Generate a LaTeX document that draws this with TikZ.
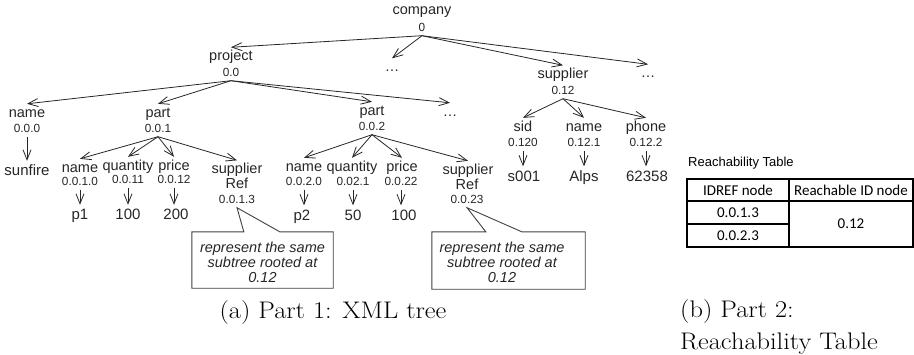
\documentclass[tikz,border=0pt]{standalone}
\usepackage{fontspec}
\usepackage{graphicx}
\newfontfamily\arialf{Liberation Sans}
\newfontfamily\calib{Carlito}
\usetikzlibrary{arrows.meta,calc}
\begin{document}
\begin{tikzpicture}[x=1pt,y=-1pt,
  lbl/.style={anchor=base,inner xsep=1pt,inner ysep=2.5pt,text height=10.5pt,font=\arialf\fontsize{14.5}{16}\selectfont,text=black!85},
  idn/.style={anchor=base,inner xsep=1pt,inner ysep=4.5pt,text height=8pt,text depth=0pt,font=\arialf\fontsize{11.8}{13}\selectfont,text=black!85},
  val/.style={anchor=base,inner xsep=1pt,inner ysep=4pt,text height=10.5pt,text depth=0pt,font=\arialf\fontsize{15}{17}\selectfont,text=black!85},
  conn/.style={draw=black!85,line width=0.8pt,-{Straight Barb[length=10pt,width=8pt]}},
  calltext/.style={align=center,inner sep=0pt,font=\arialf\itshape\fontsize{14.5}{15}\selectfont,text=black!85},
  callbox/.style={draw=black!75,line width=0.9pt},
  emptybox/.style={inner sep=0pt,minimum width=#1},
  tabline/.style={draw=black,line width=1.1pt},
  cell/.style={inner sep=0pt,font=\calib\fontsize{15}{17}\selectfont},
  captext/.style={inner sep=0pt,font=\fontsize{24}{29}\selectfont},
]
\useasboundingbox (0,0) rectangle (914,354);

% level 0
\node[lbl] (company) at (422,14.5) {company};
\node[idn] (company-id) at (422,31) {0};

% level 1
\node[lbl] (project) at (231,60.5) {project};
\node[idn] (project-id) at (231,76) {0.0};
\node[lbl] (dots1) at (392,71.5) {…};
\node[lbl] (supplier) at (563,78.5) {supplier};
\node[idn] (supplier-id) at (563,94) {0.12};
\node[lbl] (dots2) at (648,77.5) {…};

% level 2
\node[lbl] (name1) at (27,117) {name};
\node[idn] (name1-id) at (27,132) {0.0.0};
\node[val] (sunfire) at (27,175.5) {sunfire};
\node[lbl] (part1) at (158,117) {part};
\node[idn] (part1-id) at (158,132) {0.0.1};
\node[lbl] (part2) at (372,115) {part};
\node[idn] (part2-id) at (372,130) {0.0.2};
\node[lbl] (dots3) at (450,116) {…};

% level 3 under part 0.0.1
\node[lbl] (name2) at (80,172) {name};
\node[idn] (name2-id) at (80,185) {0.0.1.0};
\node[val] (p1) at (80,219.5) {p1};
\node[lbl] (qty1) at (128,170) {quantity};
\node[idn] (qty1-id) at (128,183) {0.0.11};
\node[val] (v100a) at (128,219.5) {100};
\node[lbl] (price1) at (174,170) {price};
\node[idn] (price1-id) at (174,183) {0.0.12};
\node[val] (v200) at (176,219.5) {200};
\node[lbl] (sr1) at (237,173.5) {supplier};
\node[lbl] (sr1-ref) at (237,188.5) {Ref};
\node[idn] (sr1-id) at (237,203) {0.0.1.3};

% level 3 under part 0.0.2
\node[lbl] (name3) at (304,171) {name};
\node[idn] (name3-id) at (304,185) {0.0.2.0};
\node[val] (p2) at (302,220) {p2};
\node[lbl] (qty2) at (352,171) {quantity};
\node[idn] (qty2-id) at (353,185) {0.02.1};
\node[val] (v50) at (353,220) {50};
\node[lbl] (price2) at (402,171) {price};
\node[idn] (price2-id) at (401,185) {0.0.22};
\node[val] (v100b) at (404,220) {100};
\node[lbl] (sr2) at (468,174) {supplier};
\node[lbl] (sr2-ref) at (467,189) {Ref};
\node[idn] (sr2-id) at (467,203) {0.0.23};

% children of supplier 0.12
\node[lbl] (sid) at (523,131) {sid};
\node[idn] (sid-id) at (523,146) {0.120};
\node[val] (s001) at (524,181) {s001};
\node[lbl] (name4) at (584,131) {name};
\node[idn] (name4-id) at (584,146) {0.12.1};
\node[val] (alps) at (584,181) {Alps};
\node[lbl] (phone) at (646,131) {phone};
\node[idn] (phone-id) at (646,146) {0.12.2};
\node[val] (tel) at (647,181) {62358};

% connectors
\draw[conn] (company-id.south) -- (project.north);
\draw[conn] (company-id.south) -- (dots1.north);
\draw[conn] (company-id.south) -- (supplier.north);
\draw[conn] (company-id.south) -- (dots2.north);
\draw[conn] (project-id.south) -- (name1.north);
\draw[conn] (project-id.south) -- (part1.north);
\draw[conn] (project-id.south) -- (part2.north);
\draw[conn] (project-id.south) -- (dots3.north);
\draw[conn] (name1-id.south) -- (name1-id.south |- sunfire.north);
\draw[conn] (part1-id.south) -- (name2.north);
\draw[conn] (part1-id.south) -- (qty1.north);
\draw[conn] (part1-id.south) -- (price1.north);
\draw[conn] (part1-id.south) -- (sr1.north);
\draw[conn] (name2-id.south) -- (name2-id.south |- p1.north);
\draw[conn] (qty1-id.south) -- (qty1-id.south |- v100a.north);
\draw[conn] (price1-id.south) -- (price1-id.south |- v200.north);
\draw[conn] (part2-id.south) -- (name3.north);
\draw[conn] (part2-id.south) -- (qty2.north);
\draw[conn] (part2-id.south) -- (price2.north);
\draw[conn] (part2-id.south) -- (sr2.north);
\draw[conn] (name3-id.south) -- (name3-id.south |- p2.north);
\draw[conn] (qty2-id.south) -- (qty2-id.south |- v50.north);
\draw[conn] (price2-id.south) -- (price2-id.south |- v100b.north);
\draw[conn] (supplier-id.south) -- (sid.north);
\draw[conn] (supplier-id.south) -- (name4.north);
\draw[conn] (supplier-id.south) -- (phone.north);
\draw[conn] (sid-id.south) -- (sid-id.south |- s001.north);
\draw[conn] (name4-id.south) -- (name4-id.south |- alps.north);
\draw[conn] (phone-id.south) -- (phone-id.south |- tel.north);

% callouts
\node[emptybox=141pt,minimum height=56pt] (c1box) at (262.5,260) {};
\node[calltext] (c1text) at (262.5,262) {represent the same\\subtree rooted at\\0.12};
\draw[callbox] (c1box.north west) -- ($(c1box.north west)+(52,0)$) -- (sr1-id.south)
  -- ($(c1box.north west)+(88,0)$) -- (c1box.north east) -- (c1box.south east)
  -- (c1box.south west) -- cycle;
\node[emptybox=153pt,minimum height=57pt] (c2box) at (508.5,260.5) {};
\node[calltext] (c2text) at (502,262) {represent the same\\subtree rooted at\\0.12};
\draw[callbox] (c2box.north west) -- ($(c2box.north west)+(54,0)$) -- (sr2-id.south)
  -- ($(c2box.north west)+(90,0)$) -- (c2box.north east) -- (c2box.south east)
  -- (c2box.south west) -- cycle;

% reachability table
\node[anchor=base west,inner sep=0pt,font=\arialf\fontsize{13}{15}\selectfont] (rt-title) at (688,166.5) {Reachability Table};
\draw[tabline] (687,179) rectangle (913,247);
\draw[tabline] (687,201) -- (913,201);
\draw[tabline] (687,224) -- (789,224);
\draw[tabline] (789,179) -- (789,247);
\node[cell] (h1) at (738,190) {IDREF node};
\node[cell] (h2) at (851,190) {Reachable ID node};
\node[cell] (r1) at (738,212.5) {0.0.1.3};
\node[cell] (r2) at (738,235.5) {0.0.2.3};
\node[cell] (r3) at (851,224) {0.12};

% captions
\node[captext,anchor=base] (capa) at (333,318) {\scalebox{1.1}[1]{(a) Part 1: XML tree}};
\node[captext,anchor=base west] (capb1) at (680,317) {\scalebox{1.1}[1]{(b) Part 2:}};
\node[captext,anchor=base west] (capb2) at (680,349) {\scalebox{1.1}[1]{Reachability Table}};
\end{tikzpicture}
\end{document}
